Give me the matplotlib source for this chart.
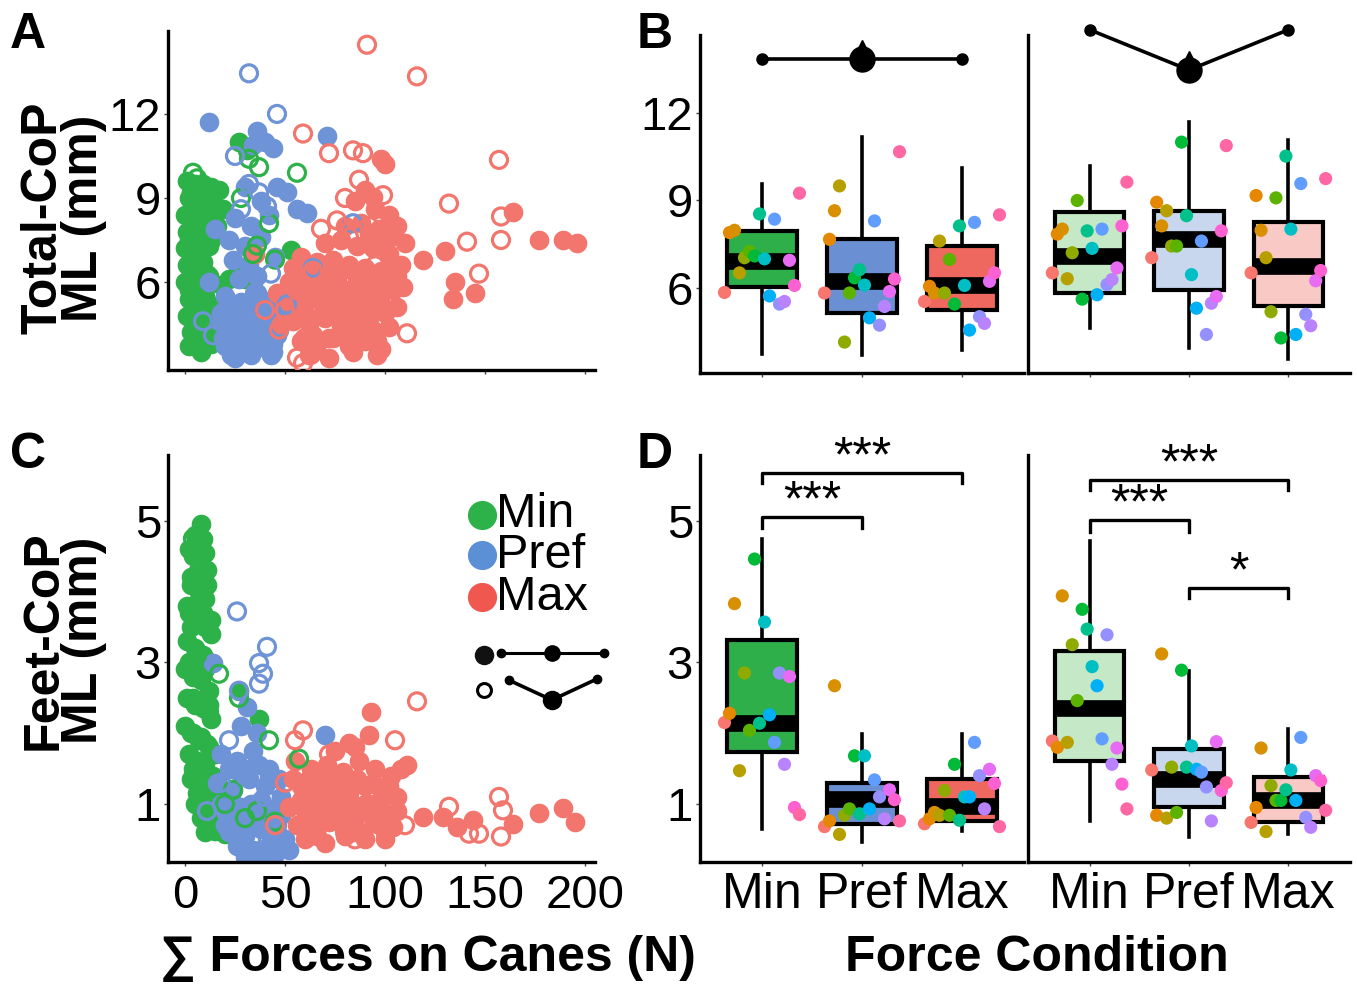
import matplotlib
matplotlib.use('Agg')
import matplotlib.pyplot as plt
import numpy as np

plt.rcParams['font.family'] = ['Liberation Sans', 'DejaVu Sans']

# ---------------- data ----------------
conditions = ['Min', 'Pref', 'Max']

# Panel A: Total-CoP ML (mm) vs sum of cane forces (N); filled / open markers
A_min_fill_x = [1, 5, 9, 13, 17, 2, 6, 10, 14, 19, 0, 4, 8, 12, 1, 5, 9, 13, 0, 4, 8, 12, 1, 5, 9,
                0, 4, 8, 12, 2, 6, 10, 1, 5, 9, 3, 7, 11, 2, 8, 13, 22, 26, 30, 34, 27, 31, 53, 18, 16,
                3, 7, 11, 2, 6, 10, 3, 7, 11, 2, 6, 10, 4, 8, 12, 5, 9]
A_min_fill_y = [9.6, 9.5, 9.5, 9.4, 9.3, 9.0, 8.9, 8.8, 8.9, 8.6, 8.4, 8.3, 8.2, 8.4, 7.8, 7.7, 7.9, 7.5,
                7.2, 7.1, 7.0, 7.3, 6.6, 6.5, 6.7, 6.0, 5.9, 6.1, 6.2, 5.4, 5.3, 5.5, 4.8, 4.7, 4.9,
                4.2, 4.1, 4.3, 3.7, 3.5, 3.8, 6.1, 6.3, 6.1, 6.0, 11.0, 10.7, 7.15, 5.9, 8.0,
                9.2, 9.1, 9.0, 7.5, 7.4, 7.6, 6.3, 6.4, 6.3, 5.7, 5.6, 5.8, 5.1, 5.0, 5.2, 4.4, 4.5]
A_min_open_x = [4, 6, 32, 37, 56, 42, 36, 34, 9, 28, 45]
A_min_open_y = [9.9, 9.7, 10.4, 10.1, 9.9, 8.1, 7.3, 7.0, 4.6, 9.0, 6.8]

A_pref_fill_x = [12, 36, 40, 44, 34, 46, 51, 61, 71, 56, 30, 38, 25, 33, 42, 22, 30, 38, 24, 32, 45, 27,
                 36, 20, 28, 36, 44, 18, 26, 34, 42, 48, 22, 30, 38, 46, 20, 28, 36, 44, 25, 33, 41, 15, 12,
                 17, 22, 27, 32, 37, 42, 47, 19, 24, 29, 34, 39, 44, 21, 26, 31, 36, 41, 23, 33, 43]
A_pref_fill_y = [11.7, 11.4, 11.0, 10.8, 10.9, 9.4, 9.2, 8.45, 11.2, 8.6, 9.4, 8.9, 8.3, 8.0, 8.4, 7.5,
                 7.3, 7.6, 6.8, 6.6, 6.9, 6.1, 6.2, 5.5, 5.3, 5.6, 5.4, 4.9, 4.8, 5.0, 4.7, 4.9, 4.3,
                 4.2, 4.4, 4.1, 3.7, 3.6, 3.8, 3.5, 3.3, 3.4, 3.6, 7.9, 6.0,
                 4.6, 4.5, 4.6, 4.5, 4.6, 4.5, 4.3, 4.0, 3.9, 4.0, 3.9, 4.0, 3.8, 5.1, 5.2, 5.1, 5.2,
                 5.1, 3.4, 3.5, 3.4]
A_pref_open_x = [32, 46, 25, 32, 37, 28, 64, 84, 41, 9, 14, 51, 43, 35]
A_pref_open_y = [13.45, 12.0, 10.5, 9.5, 9.2, 8.6, 6.5, 8.1, 8.7, 4.6, 4.1, 5.2, 6.3, 5.6]

A_max_fill_x = [98, 94, 100, 90, 85, 95, 102, 80, 88, 97, 104, 70, 78, 86, 94, 102, 58, 66, 74, 82, 90,
                98, 106, 52, 60, 68, 76, 84, 92, 100, 50, 58, 66, 74, 82, 90, 98, 106, 54, 62, 70, 78,
                86, 94, 102, 58, 66, 74, 82, 90, 98, 62, 72, 84, 96, 109, 119, 130, 135, 134, 145, 164,
                177, 189, 196, 35,
                54, 62, 70, 78, 86, 94, 102, 56, 64, 72, 80, 88, 96, 104, 60, 68, 76, 84, 92, 100,
                64, 72, 80, 88, 96, 48, 46, 108, 110, 106, 92, 100]
A_max_fill_y = [10.4, 9.05, 10.2, 9.3, 8.9, 8.6, 8.4, 8.0, 8.1, 7.9, 7.7, 7.4, 7.5, 7.3, 7.2, 7.0, 6.9,
                6.7, 6.8, 6.6, 6.5, 6.4, 6.2, 6.0, 6.1, 5.9, 6.0, 5.8, 5.7, 5.8, 5.3, 5.2, 5.4, 5.2, 5.1,
                5.0, 5.2, 5.1, 4.6, 4.5, 4.7, 4.4, 4.5, 4.3, 4.4, 3.9, 3.8, 4.0, 3.7, 3.9, 3.6, 3.4, 3.3,
                3.5, 3.4, 5.84, 6.8, 7.1, 6.0, 5.4, 5.6, 8.5, 7.5, 7.5, 7.4, 7.0,
                6.5, 6.3, 6.2, 6.4, 6.1, 6.0, 6.6, 5.6, 5.5, 5.6, 5.5, 5.4, 5.5, 5.7, 4.9, 4.8, 4.9,
                4.8, 4.7, 4.9, 4.1, 4.0, 4.2, 4.1, 3.9, 4.5, 5.6, 6.6, 7.4, 8.0, 7.7, 7.5]
A_max_open_x = [91, 116, 59, 72, 84, 89, 87, 99, 80, 76, 68, 82, 64, 56, 50, 47, 60, 56, 59, 63, 75, 88,
                111, 132, 157, 158, 158, 141, 147, 103, 95, 40, 92]
A_max_open_y = [14.47, 13.34, 11.3, 10.6, 10.7, 10.6, 9.65, 9.1, 9.0, 8.2, 7.9, 7.6, 6.4, 5.7, 5.0, 4.3,
                4.0, 3.3, 3.1, 3.4, 4.8, 5.5, 4.17, 8.8, 10.36, 8.34, 7.5, 7.44, 6.3, 7.6, 6.6, 5.0, 8.0]

# Panel C: Feet-CoP ML (mm) vs sum of cane forces (N)
C_min_fill_x = [5, 9, 4, 8, 11, 3, 7, 10, 2, 6, 10, 13, 1, 5, 9, 12, 0, 4, 8, 12, 1, 5, 9, 13, 0, 4, 8,
                12, 2, 6, 10, 14, 3, 7, 11, 15, 5, 9, 13, 18, 8, 12, 16, 20, 24, 10, 15, 20, 25, 30,
                27, 37, 52, 6, 3,
                2, 6, 10, 3, 7, 11, 1, 5, 9, 13, 2, 6, 10, 4, 8, 12, 3, 7, 11, 15, 4, 8, 12, 16, 6, 10,
                14, 18, 22, 12, 17, 22, 27, 8, 3]
C_min_fill_y = [4.8, 4.75, 4.5, 4.4, 4.3, 4.1, 4.0, 3.9, 3.7, 3.6, 3.5, 3.4, 3.3, 3.2, 3.1, 3.0, 2.9,
                2.8, 2.75, 2.6, 2.5, 2.4, 2.35, 2.2, 2.1, 2.0, 1.95, 1.8, 1.7, 1.6, 1.55, 1.4, 1.35,
                1.3, 1.2, 1.1, 1.0, 0.95, 0.9, 0.85, 0.8, 0.75, 0.7, 0.72, 0.68, 0.6, 0.62, 0.58,
                0.65, 0.7, 2.6, 2.2, 0.95, 4.2, 3.8,
                4.6, 4.6, 4.55, 4.2, 4.2, 4.1, 3.8, 3.75, 3.7, 3.6, 3.0, 2.95, 2.9, 2.5, 2.45, 2.4, 2.0,
                1.9, 1.85, 1.7, 1.5, 1.45, 1.4, 1.35, 1.15, 1.1, 1.05, 1.0, 0.95, 0.9, 0.85, 0.82, 0.8,
                4.95, 3.5]
C_min_open_x = [17, 27, 42, 57, 4, 20, 30, 36, 45, 7, 6, 12, 24]
C_min_open_y = [2.84, 2.5, 1.9, 1.64, 4.75, 1.0, 0.8, 0.9, 0.75, 4.3, 3.1, 2.3, 1.2]

C_pref_fill_x = [70, 31, 14, 28, 36, 18, 26, 34, 42, 16, 24, 32, 40, 48, 20, 28, 36, 44, 22, 30, 38, 46,
                 26, 34, 42, 50, 36, 40, 44, 62, 75, 82,
                 18, 23, 28, 33, 38, 43, 48, 20, 25, 30, 35, 40, 45, 22, 27, 32, 37, 42, 47, 30, 38, 45, 52]
C_pref_fill_y = [1.97, 2.37, 2.99, 2.1, 2.0, 1.7, 1.6, 1.75, 1.5, 1.3, 1.2, 1.35, 1.25, 1.1, 0.9, 0.85,
                 0.95, 0.8, 0.6, 0.55, 0.65, 0.6, 0.4, 0.35, 0.42, 0.5, 0.3, 0.28, 0.38, 1.2, 1.0, 1.3,
                 1.0, 1.05, 0.95, 1.0, 1.05, 0.9, 0.85, 0.7, 0.75, 0.7, 0.72, 0.75, 0.7, 1.5, 1.45, 1.5,
                 1.55, 1.4, 1.35, 0.25, 0.22, 0.3, 0.35]
C_pref_open_x = [26, 41, 37, 39, 37, 22, 11, 30, 40, 46, 33, 18, 27]
C_pref_open_y = [3.72, 3.22, 2.99, 2.84, 2.7, 1.9, 0.9, 1.4, 1.1, 0.7, 0.5, 1.3, 2.6]

C_max_fill_x = [93, 92, 82, 111, 55, 63, 71, 79, 87, 95, 103, 58, 66, 74, 82, 90, 98, 106, 52, 60, 68,
                76, 84, 92, 100, 56, 64, 72, 80, 88, 96, 104, 60, 70, 80, 90, 100, 119, 129, 136, 144,
                164, 177, 189, 195, 75, 85,
                54, 62, 70, 78, 86, 94, 102, 58, 66, 74, 82, 90, 98, 106, 62, 70, 78, 86, 94, 102, 66,
                84, 100, 108]
C_max_fill_y = [2.3, 1.97, 1.86, 1.55, 1.6, 1.5, 1.55, 1.45, 1.6, 1.5, 1.4, 1.25, 1.2, 1.3, 1.15, 1.25,
                1.2, 1.1, 0.95, 0.9, 1.0, 0.95, 0.9, 1.0, 0.85, 0.7, 0.65, 0.75, 0.7, 0.6, 0.72, 0.68,
                0.5, 0.45, 0.55, 0.5, 0.6, 0.82, 0.82, 0.68, 0.77, 0.72, 0.87, 0.94, 0.75, 1.75, 1.8,
                1.35, 1.35, 1.4, 1.3, 1.35, 1.3, 1.25, 1.05, 1.0, 1.1, 1.05, 1.0, 1.05, 0.9, 0.8, 0.85,
                0.8, 0.85, 0.8, 0.75, 0.55, 0.6, 0.5, 1.5]
C_max_open_x = [116, 59, 105, 100, 132, 142, 147, 157, 159, 158, 50, 45, 65, 80, 90, 72, 110, 55, 85]
C_max_open_y = [2.45, 2.04, 1.9, 1.31, 0.96, 0.58, 0.58, 1.1, 0.91, 0.54, 1.3, 0.7, 0.8, 0.6, 1.4,
                1.7, 0.7, 1.9, 0.5]

# Panel B: box statistics (q1, median, q3, whisker low, whisker high) per condition
B_left_stats = {'Min': (6.02, 6.92, 7.96, 3.75, 9.58),
                'Pref': (5.13, 6.23, 7.67, 3.72, 11.19),
                'Max': (5.25, 6.12, 7.44, 3.87, 10.1)}
B_right_stats = {'Min': (5.83, 7.1, 8.6, 4.62, 10.18),
                 'Pref': (5.94, 7.67, 8.65, 3.95, 11.7),
                 'Max': (5.37, 6.75, 8.25, 3.58, 11.07)}
# participant values (16 participants) per condition
B_left_pts = {'Min': [5.85, 7.9, 7.98, 6.52, 7.04, 7.25, 7.1, 8.54, 7.0, 5.73, 8.36, 5.45, 5.54, 6.95, 6.09, 9.25],
              'Pref': [5.83, 7.67, 8.65, 9.5, 4.15, 5.83, 6.35, 6.63, 6.1, 4.98, 8.3, 4.73, 5.37, 5.88, 6.31, 10.67],
              'Max': [5.54, 6.06, 5.83, 7.61, 5.83, 6.98, 5.45, 8.13, 6.09, 4.56, 8.25, 5.02, 4.79, 6.23, 6.52, 8.51]}
B_right_pts = {'Min': [6.52, 7.85, 8.02, 6.32, 7.21, 9.0, 5.62, 7.96, 7.36, 5.77, 8.02, 6.12, 6.29, 6.69, 8.13, 9.63],
               'Pref': [7.04, 8.94, 8.13, 8.65, 7.44, 7.44, 11.0, 8.48, 6.46, 5.31, 7.61, 4.41, 5.48, 5.71, 7.96, 10.88],
               'Max': [6.52, 9.17, 7.98, 7.04, 5.19, 9.09, 4.29, 10.52, 8.02, 4.41, 9.58, 5.1, 4.71, 6.25, 6.6, 9.75]}
B_trend_left = [13.84, 13.84, 13.84]
B_trend_right = [14.85, 13.47, 14.85]

# Panel D
D_left_stats = {'Min': (1.73, 2.15, 3.31, 0.65, 4.74),
                'Pref': (0.72, 1.07, 1.29, 0.46, 1.99),
                'Max': (0.76, 0.97, 1.35, 0.62, 1.99)}
D_right_stats = {'Min': (1.61, 2.36, 3.16, 0.76, 4.72),
                 'Pref': (0.95, 1.35, 1.78, 0.53, 2.88),
                 'Max': (0.74, 1.05, 1.38, 0.58, 2.06)}
D_left_pts = {'Min': [2.15, 2.28, 3.83, 1.47, 2.85, 2.04, 4.46, 2.14, 3.57, 2.26, 1.87, 2.85, 1.56, 2.8, 0.95, 0.85],
              'Pref': [0.68, 0.76, 2.67, 0.57, 0.84, 0.93, 1.68, 0.86, 1.68, 0.93, 1.34, 1.1, 0.79, 1.2, 1.06, 0.76],
              'Max': [0.72, 0.79, 0.88, 0.84, 1.19, 0.84, 1.56, 0.77, 1.1, 1.1, 1.87, 1.4, 0.93, 1.49, 1.29, 0.68]}
D_right_pts = {'Min': [1.89, 1.8, 3.94, 1.87, 3.25, 2.46, 3.75, 3.47, 2.94, 2.67, 1.92, 3.39, 1.56, 1.79, 1.28, 0.93],
               'Pref': [1.48, 0.84, 3.12, 0.8, 1.52, 0.88, 2.89, 1.52, 1.82, 1.49, 1.45, 1.24, 0.76, 1.88, 1.19, 1.3],
               'Max': [0.74, 0.95, 1.79, 0.61, 1.26, 1.05, 1.05, 1.2, 1.48, 1.05, 1.94, 0.81, 0.67, 1.4, 1.33, 0.91]}
D_left_sig = [(1, 3, 5.68, 5.54, '***'), (1, 2, 5.06, 4.90, '***')]
D_right_sig = [(1, 3, 5.58, 5.44, '***'), (1, 2, 5.01, 4.84, '***'), (2, 3, 4.05, 3.91, '*')]

# ---------------- styles ----------------
GREEN, BLUE, RED = '#2DB24A', '#6E93D6', '#F2766D'
BOX_DARK = ['#2EAF4A', '#6A8FD2', '#EF685F']
BOX_LIGHT = ['#C5E8C7', '#C8D7EE', '#F8C9C5']
PART_COLORS = ['#F8766D', '#E58700', '#D89000', '#B79F00', '#8FAA00', '#5BB300', '#00BA38', '#00C08B',
               '#00BFC4', '#00B0F6', '#619CFF', '#9590FF', '#B983FF', '#E76BF3', '#FD61D1', '#FF67A4']

W, H = 1357, 985
fig = plt.figure(figsize=(W / 100, H / 100), dpi=100)


def add_ax(l, r, t, b):
    return fig.add_axes([l / W, 1 - b / H, (r - l) / W, (b - t) / H])


def style(ax):
    for s in ['top', 'right']:
        ax.spines[s].set_visible(False)
    for s in ['left', 'bottom']:
        ax.spines[s].set_linewidth(2.4)
        ax.spines[s].set_color('black')
    ax.tick_params(length=3, width=1, labelsize=34, pad=2, color='#444444')


TICK_FS = 34
LAB_FS = 36


# ---------- scatter panels ----------
def scatter_panel(ax, groups, ylim, yticks):
    style(ax)
    for (fx, fy, ox, oy, c) in groups:
        ax.scatter(fx, fy, s=200, color=c, linewidths=0, zorder=2)
    for (fx, fy, ox, oy, c) in groups:
        ax.scatter(ox, oy, s=150, facecolors='none', edgecolors=c, linewidths=2.3, zorder=3)
    ax.set_xlim(-8.5, 205)
    ax.set_ylim(*ylim)
    ax.set_yticks(yticks)
    ax.set_yticklabels([str(v) for v in yticks], fontsize=TICK_FS)
    ax.set_xticks([0, 50, 100, 150, 200])


axA = add_ax(168, 595, 31, 370)
scatter_panel(axA, [(A_min_fill_x, A_min_fill_y, A_min_open_x, A_min_open_y, GREEN),
                    (A_pref_fill_x, A_pref_fill_y, A_pref_open_x, A_pref_open_y, BLUE),
                    (A_max_fill_x, A_max_fill_y, A_max_open_x, A_max_open_y, RED)],
              (2.86, 14.96), [6, 9, 12])
axA.set_xticklabels([])

axC = add_ax(168, 595, 455, 862)
scatter_panel(axC, [(C_min_fill_x, C_min_fill_y, C_min_open_x, C_min_open_y, GREEN),
                    (C_pref_fill_x, C_pref_fill_y, C_pref_open_x, C_pref_open_y, BLUE),
                    (C_max_fill_x, C_max_fill_y, C_max_open_x, C_max_open_y, RED)],
              (0.18, 5.93), [1, 3, 5])
axC.set_xticklabels(['0', '50', '100', '150', '200'], fontsize=TICK_FS)
axC.tick_params(axis='x', pad=6)

# legend in C (drawn manually)
leg_cols = [GREEN, '#5B8FD6', '#F0574F']
leg_y = [0.853, 0.754, 0.651]
for c, yy, lab in zip(leg_cols, leg_y, conditions):
    axC.plot([0.735], [yy], 'o', ms=21, color=c, mec='none', transform=axC.transAxes, clip_on=False)
    axC.text(0.768, yy, lab, transform=axC.transAxes, fontsize=35, va='center', ha='left')
axC.plot([0.741], [0.509], 'o', ms=13, color='#111111', transform=axC.transAxes, clip_on=False)
axC.plot([0.781, 0.899, 1.021], [0.513, 0.513, 0.513], '-', color='black', lw=2.2,
         transform=axC.transAxes, clip_on=False)
axC.plot([0.781, 1.021], [0.513, 0.513], 'o', ms=6, color='black', transform=axC.transAxes, clip_on=False)
axC.plot([0.899], [0.513], 'o', ms=11, color='black', transform=axC.transAxes, clip_on=False)
axC.plot([0.741], [0.423], 'o', ms=10, mfc='none', mec='black', mew=2.2, transform=axC.transAxes, clip_on=False)
axC.plot([0.798, 0.899, 1.005], [0.447, 0.398, 0.450], '-', color='black', lw=2.6,
         transform=axC.transAxes, clip_on=False)
axC.plot([0.798, 1.005], [0.447, 0.450], 'o', ms=6, color='black', transform=axC.transAxes, clip_on=False)
axC.plot([0.899], [0.398], 'o', ms=13, color='black', transform=axC.transAxes, clip_on=False)

# ---------- box panels ----------
offsets = -0.375 + 0.05 * np.arange(16)


def box_panel(ax, stats, pts, fills, ylim, yticks, show_ylabels, show_xlabels):
    style(ax)
    bstats = []
    for c in conditions:
        q1, med, q3, lo, hi = stats[c]
        bstats.append(dict(q1=q1, med=med, q3=q3, whislo=lo, whishi=hi, fliers=[], label=c))
    bp = ax.bxp(bstats, positions=[1, 2, 3], widths=0.7, patch_artist=True, showcaps=False,
                showfliers=False,
                boxprops=dict(linewidth=3.0, edgecolor='black'),
                whiskerprops=dict(linewidth=2.6, color='black'),
                medianprops=dict(linewidth=12, color='black', solid_capstyle='butt'))
    for patch, fc in zip(bp['boxes'], fills):
        patch.set_facecolor(fc)
        patch.set_zorder(2)
    for m in bp['medians']:
        m.set_zorder(3)
    for i, c in enumerate(conditions):
        ax.scatter(i + 1 + offsets, pts[c], s=90, c=PART_COLORS, linewidths=0, zorder=4)
    ax.set_xlim(0.38, 3.62)
    ax.set_ylim(*ylim)
    ax.set_yticks(yticks)
    if show_ylabels:
        ax.set_yticklabels([str(v) for v in yticks], fontsize=TICK_FS)
    else:
        ax.set_yticklabels([])
        ax.tick_params(axis='y', length=0)
    ax.set_xticks([1, 2, 3])
    if show_xlabels:
        ax.set_xticklabels(conditions, fontsize=36)
        ax.tick_params(axis='x', pad=4)
    else:
        ax.set_xticklabels([])


axB1 = add_ax(700, 1024, 35, 373)
box_panel(axB1, B_left_stats, B_left_pts, BOX_DARK, (3.09, 14.67), [6, 9, 12], True, False)
axB2 = add_ax(1028, 1350, 35, 373)
box_panel(axB2, B_right_stats, B_right_pts, BOX_LIGHT, (3.09, 14.67), [6, 9, 12], False, False)

for ax, tr in [(axB1, B_trend_left), (axB2, B_trend_right)]:
    ax.plot([1, 2, 3], tr, '-', color='black', lw=2.6, clip_on=False, zorder=5)
    ax.plot([1, 3], [tr[0], tr[2]], 'o', ms=8, color='black', clip_on=False, zorder=5)
    ax.plot([2], [tr[1]], 'o', ms=18, color='black', clip_on=False, zorder=6)
    ax.plot([2], [tr[1] + 0.45], '^', ms=8, color='black', clip_on=False, zorder=6)

axD1 = add_ax(700, 1024, 455, 862)
box_panel(axD1, D_left_stats, D_left_pts, BOX_DARK, (0.18, 5.93), [1, 3, 5], True, True)
axD2 = add_ax(1028, 1350, 455, 862)
box_panel(axD2, D_right_stats, D_right_pts, BOX_LIGHT, (0.18, 5.93), [1, 3, 5], False, True)

for ax, sigs in [(axD1, D_left_sig), (axD2, D_right_sig)]:
    for x1, x2, yb, yd, lab in sigs:
        ax.plot([x1, x1, x2, x2], [yd, yb, yb, yd], '-', color='black', lw=2.4, clip_on=False, zorder=5)
        ax.text((x1 + x2) / 2, yb + 0.02, lab, ha='center', va='baseline', fontsize=36, clip_on=False)

# ---------- labels ----------
fig.text(64 / W, 1 - 218 / H, 'Total-CoP\nML (mm)', rotation=90, ha='center', va='center',
         fontsize=LAB_FS, fontweight='bold', linespacing=0.85, multialignment='center')
fig.text(64 / W, 1 - 640 / H, 'Feet-CoP\nML (mm)', rotation=90, ha='center', va='center',
         fontsize=LAB_FS, fontweight='bold', linespacing=0.85, multialignment='center')
fig.text(428 / W, 1 - 958 / H, '\u2211 Forces on Canes (N)', ha='center', va='center',
         fontsize=LAB_FS, fontweight='bold')
fig.text(1037 / W, 1 - 958 / H, 'Force Condition', ha='center', va='center',
         fontsize=LAB_FS, fontweight='bold')

for lab, x, y in [('A', 28, 35), ('B', 655, 35), ('C', 28, 455), ('D', 655, 455)]:
    fig.text(x / W, 1 - y / H, lab, ha='center', va='center', fontsize=36, fontweight='bold')

fig.savefig('out.png', dpi=100)
